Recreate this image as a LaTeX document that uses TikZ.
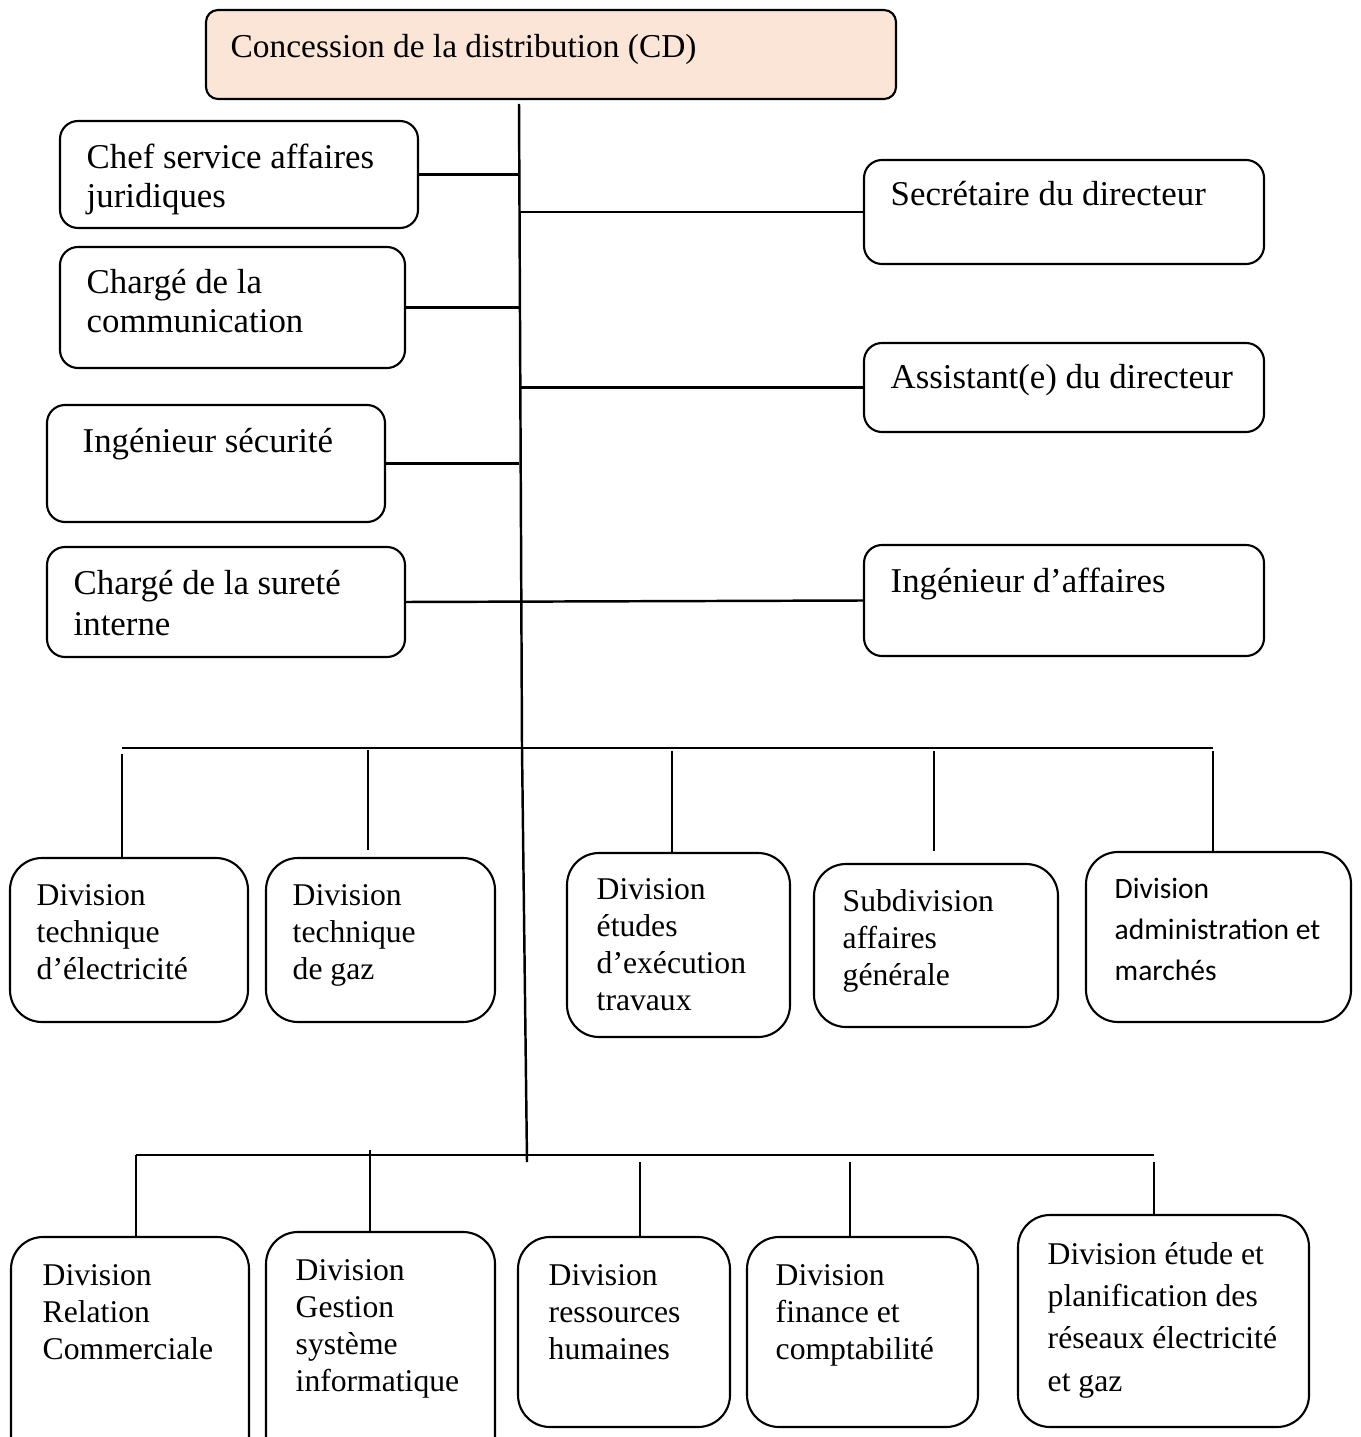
\documentclass[tikz,border=0pt]{standalone}
\usepackage{fontspec}
\setmainfont{Liberation Serif}
\newfontfamily\calibri{Carlito}
\usetikzlibrary{fit}
\definecolor{cdpeach}{RGB}{251,229,214}
\tikzset{
    unit/.style={
           rectangle,
           rounded corners=0.18cm,
           draw=black, line width=0.6pt,
           inner sep=0pt,
           },
    division/.style={unit, rounded corners=0.32cm},
    lbl/.style={anchor=base west, align=left, inner sep=0pt,
           font=\fontsize{9.9}{11.1}\selectfont},
    lbls/.style={lbl, font=\fontsize{9}{10.5}\selectfont},
    link/.style={line width=0.7pt},
}

\begin{document}
\begin{tikzpicture}[x=0.01cm, y=-0.01cm]
      \useasboundingbox (0,0) rectangle (1360,1437);
      \clip (0,0) rectangle (1360,1437);
      % direction
      \node[unit, fill=cdpeach, rounded corners=0.12cm, fit={(206,10) (896,99)}] (cd) {};
      \node[lbl, font=\fontsize{9.5}{11}\selectfont] (cd-t) at (230,58) {Concession de la distribution (CD)};
      % staff, left side (text placed by its last baseline)
      \node[unit, fit={(60,121) (418,228)}]  (juri) {};
      \node[lbl] (juri-t) at (86,208) {Chef service affaires\\juridiques};
      \node[unit, fit={(60,247) (405,368)}]  (comm) {};
      \node[lbl] (comm-t) at (86,333) {Chargé de la\\communication};
      \node[unit, fit={(47,405) (385,522)}]  (secu) {};
      \node[lbl] (secu-t) at (82,453) {Ingénieur sécurité};
      \node[unit, fit={(47,547) (405,657)}]  (surete) {};
      \node[lbl, font=\fontsize{9.9}{11.5}\selectfont] (surete-t) at (73,635) {Chargé de la sureté\\interne};
      % staff, right side
      \node[unit, fit={(864,160) (1264,264)}] (secr) {};
      \node[lbl] (secr-t) at (890,206) {Secrétaire du directeur};
      \node[unit, fit={(864,343) (1264,432)}] (assist) {};
      \node[lbl] (assist-t) at (890,389) {Assistant(e) du directeur};
      \node[unit, fit={(864,545) (1264,656)}] (ingaff) {};
      \node[lbl] (ingaff-t) at (890,592) {Ingénieur d’affaires};
      % first row of divisions
      \node[division, fit={(10,858) (248,1022)}]   (elec) {};
      \node[lbls] (elec-t) at (36,979) {Division\\technique\\d’électricité};
      \node[division, fit={(266,858) (495,1022)}]  (gaz) {};
      \node[lbls] (gaz-t) at (292,979) {Division\\technique\\de gaz};
      \node[division, fit={(567,853) (790,1037)}]  (etudes) {};
      \node[lbls] (etudes-t) at (596,1010) {Division\\études\\d’exécution\\travaux};
      \node[division, fit={(814,864) (1058,1027)}] (subdiv) {};
      \node[lbls] (subdiv-t) at (842,985) {Subdivision\\affaires\\générale};
      \node[division, fit={(1086,852) (1351,1022)}] (admin) {};
      \node[lbl, font=\calibri\fontsize{8.4}{11.6}\selectfont] (admin-t) at (1114,980) {Division\\administration et\\marchés};
      % second row of divisions
      \node[division, fit={(11,1237) (249,1470)}]  (rel) {};
      \node[lbls] (rel-t) at (42,1359) {Division\\Relation\\Commerciale};
      \node[division, fit={(266,1232) (495,1470)}] (gsi) {};
      \node[lbls] (gsi-t) at (295,1391) {Division\\Gestion\\système\\informatique};
      \node[division, fit={(518,1237) (730,1427)}] (rh) {};
      \node[lbls] (rh-t) at (548,1359) {Division\\ressources\\humaines};
      \node[division, fit={(747,1237) (978,1427)}] (fin) {};
      \node[lbls] (fin-t) at (775,1359) {Division\\finance et\\comptabilité};
      \node[division, fit={(1018,1215) (1309,1427)}] (plan) {};
      \node[lbls, font=\fontsize{9}{12}\selectfont] (plan-t) at (1047,1391) {Division étude et\\planification des\\réseaux électricité\\et gaz};
      % trunk and buses
      \coordinate (trunk-top) at (519,104);
      \coordinate (trunk-mid) at (522,748);
      \coordinate (trunk-end) at (527,1162);
      \coordinate (bus1-l) at (122,748);
      \coordinate (bus1-r) at (1213,748);
      \coordinate (bus2-l) at (136,1155);
      \coordinate (bus2-r) at (1154,1155);
      \draw[link] (trunk-top) -- (trunk-mid) -- (trunk-end);
      \draw[link] (bus1-l) -- (bus1-r);
      \draw[link] (bus2-l) -- (bus2-r);
      % staff links
      \draw[link] (juri.east) -- (juri.east -| trunk-top);
      \draw[link] (comm.east) -- (comm.east -| trunk-top);
      \draw[link] (secu.east) -- (secu.east -| trunk-top);
      \draw[link] (surete.east) -- (ingaff.west);
      \draw[link] (secr.west -| trunk-top) -- (secr.west);
      \draw[link] (assist.west -| trunk-top) -- (assist.west);
      % drops, first row
      \coordinate (d-elec) at (122,754);
      \coordinate (d-gaz) at (368,750);
      \coordinate (d-etudes) at (672,751);
      \coordinate (d-subdiv) at (934,751);
      \coordinate (d-admin) at (1213,751);
      \draw[link] (d-elec) -- (d-elec |- elec.north);
      \draw[link, shorten >=0.07cm] (d-gaz) -- (d-gaz |- gaz.north);
      \draw[link] (d-etudes) -- (d-etudes |- etudes.north);
      \draw[link, shorten >=0.12cm] (d-subdiv) -- (d-subdiv |- subdiv.north);
      \draw[link] (d-admin) -- (d-admin |- admin.north);
      % drops, second row
      \coordinate (d-rel) at (136,1155);
      \coordinate (d-gsi) at (370,1150);
      \coordinate (d-rh) at (640,1162);
      \coordinate (d-fin) at (850,1162);
      \coordinate (d-plan) at (1154,1162);
      \draw[link] (d-rel) -- (d-rel |- rel.north);
      \draw[link] (d-gsi) -- (d-gsi |- gsi.north);
      \draw[link] (d-rh) -- (d-rh |- rh.north);
      \draw[link] (d-fin) -- (d-fin |- fin.north);
      \draw[link] (d-plan) -- (d-plan |- plan.north);
\end{tikzpicture}
\end{document}
